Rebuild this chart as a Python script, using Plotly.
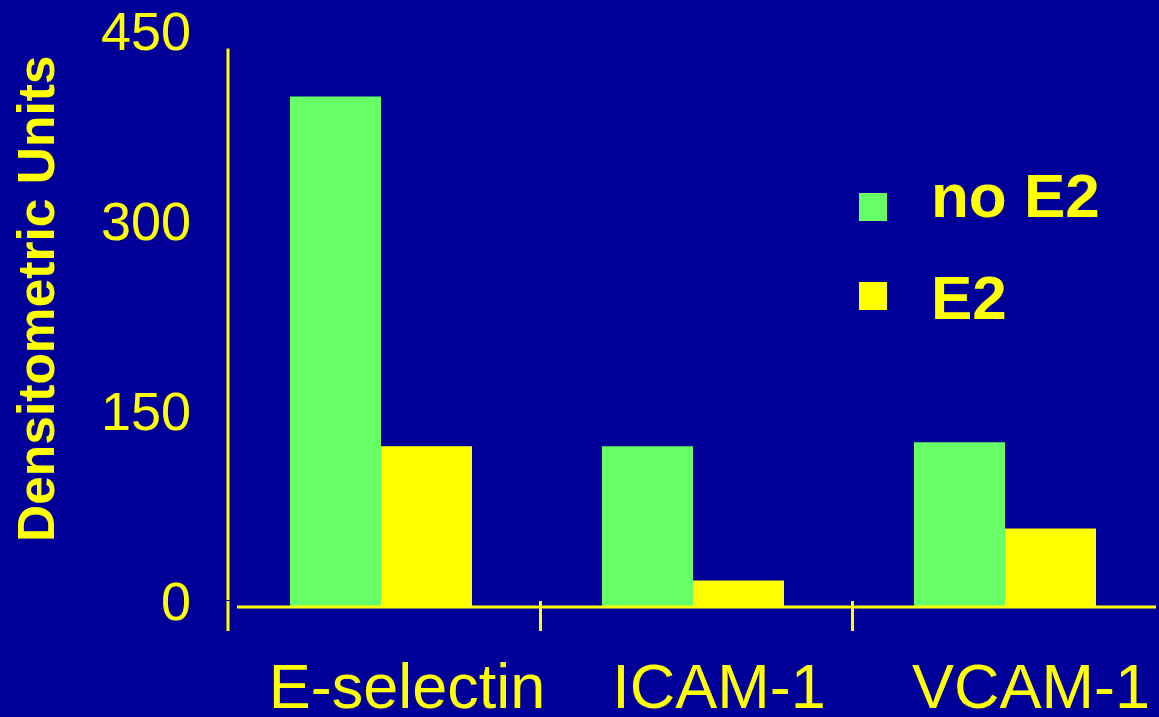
import plotly.graph_objects as go

# Data
categories = ["E-selectin", "ICAM-1", "VCAM-1"]
no_e2 = [403, 127, 130]
e2 = [127, 21, 62]
series_names = ["no E2", "E2"]
y_ticks = [0, 150, 300, 450]

BG = "#000099"
GREEN = "#66FF66"
YELLOW = "#FFFF00"
FONT = "Arial, Liberation Sans, sans-serif"

W, H = 1159, 717
ML, MR, MT, MB = 228, 0, 37, 86
PW, PH = W - ML - MR, H - MT - MB
CAT_PX = 312.0  # width of one category slot in pixels


def paper_x(px):
    return (px - ML) / PW


def paper_y(py):
    return (H - MB - py) / PH


bar_w = 91 / CAT_PX
nudge = 3 / CAT_PX

fig = go.Figure()
fig.add_trace(go.Bar(x=categories, y=no_e2, name=series_names[0],
                     width=bar_w, offset=-bar_w - nudge,
                     marker=dict(color=GREEN, line=dict(width=0)), showlegend=False))
fig.add_trace(go.Bar(x=categories, y=e2, name=series_names[1],
                     width=bar_w, offset=-nudge,
                     marker=dict(color=YELLOW, line=dict(width=0)), showlegend=False))

# y scale: 0 sits 24 px above the bottom of the plot area, 450 at the top
px_per_unit = (H - MB - 24 - MT) / 450.0
y_min = -24 / px_per_unit

shapes = [
    # vertical axis line
    dict(type="line", xref="paper", yref="y", x0=0, x1=0, y0=5.5, y1=441,
         line=dict(color=YELLOW, width=3), layer="above"),
    # short stub below the baseline at the left boundary
    dict(type="line", xref="paper", yref="paper", x0=0, x1=0, y0=0, y1=paper_y(601),
         line=dict(color=YELLOW, width=3), layer="above"),
    # baseline at zero
    dict(type="line", xref="paper", yref="y", x0=paper_x(237), x1=paper_x(1156), y0=0, y1=0,
         line=dict(color=YELLOW, width=3), layer="above"),
]

# legend swatches
for i, col in enumerate([GREEN, YELLOW]):
    top = [193, 282][i]
    shapes.append(dict(type="rect", xref="paper", yref="paper",
                       x0=paper_x(859), x1=paper_x(887), y0=paper_y(top + 28), y1=paper_y(top),
                       fillcolor=col, line=dict(width=0), layer="above"))

annotations = [
    dict(text="Densitometric Units", xref="paper", yref="paper",
         x=paper_x(36), y=paper_y(299), textangle=-90, showarrow=False,
         xanchor="center", yanchor="middle",
         font=dict(family=FONT, size=51.5, color=YELLOW, weight="bold")),
]
for i, name in enumerate(series_names):
    cy = [195, 297][i]
    annotations.append(dict(text=name, xref="paper", yref="paper",
                            x=paper_x(929), y=paper_y(cy), showarrow=False,
                            xanchor="left", yanchor="middle",
                            font=dict(family=FONT, size=62, color=YELLOW, weight="bold")))

fig.update_layout(
    width=W, height=H,
    margin=dict(l=ML, r=MR, t=MT, b=MB, pad=0, autoexpand=False),
    paper_bgcolor=BG, plot_bgcolor=BG,
    barmode="group",
    shapes=shapes, annotations=annotations,
    showlegend=False,
)
fig.update_xaxes(
    type="category", categoryorder="array", categoryarray=categories,
    range=[-0.5, -0.5 + PW / CAT_PX], automargin=False,
    tickson="boundaries", ticks="inside", ticklen=30, tickwidth=3, tickcolor=YELLOW,
    showline=False, showgrid=False, zeroline=False,
    tickfont=dict(family=FONT, size=63, color=YELLOW),
    ticklabelshift=23, ticklabelstandoff=13,
)
fig.update_yaxes(
    range=[y_min, 450], tickvals=y_ticks, ticktext=[str(v) for v in y_ticks],
    automargin=False,
    ticks="", showline=False, showgrid=False, zeroline=False,
    tickfont=dict(family=FONT, size=54, color=YELLOW),
    ticklabelshift=-6, ticklabelstandoff=36,
)

fig.write_html("out.html")
